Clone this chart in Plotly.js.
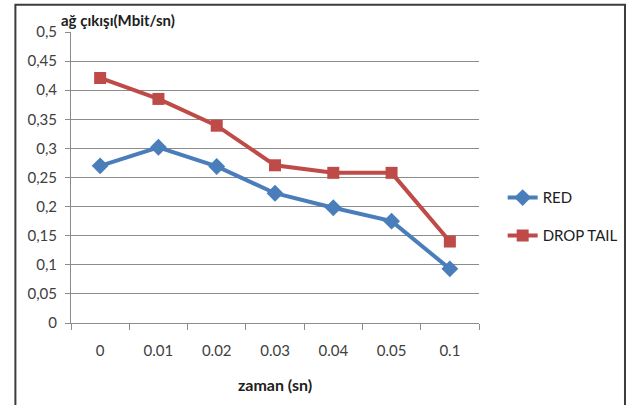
<!DOCTYPE html>
<html><head><meta charset="utf-8">
<script src="https://cdn.plot.ly/plotly-3.0.1.min.js"></script>
<style>body{margin:0;background:#fff;overflow:hidden}#c{width:630px;height:405px}</style>
</head><body><div id="c"></div>
<script>
const categories = ['0','0.01','0.02','0.03','0.04','0.05','0.1'];
const redValues = [0.270, 0.302, 0.269, 0.223, 0.198, 0.175, 0.093];
const dropTailValues = [0.421, 0.385, 0.339, 0.271, 0.258, 0.258, 0.140];
const yTitle = 'ağ çıkışı(Mbit/sn)';
const xTitle = 'zaman (sn)';

const font = 'Lato, "Open Sans", sans-serif';
const traces = [
  {x: categories, y: redValues, name: 'RED', type: 'scatter', mode: 'lines+markers',
   line: {color: '#4A7EBB', width: 4}, marker: {symbol: 'diamond', size: 13, color: '#4A7EBB'}, legend: 'legend'},
  {x: categories, y: dropTailValues, name: 'DROP TAIL', type: 'scatter', mode: 'lines+markers',
   line: {color: '#BE4B48', width: 4}, marker: {symbol: 'square', size: 12, color: '#BE4B48'}, legend: 'legend2'}
];
const layout = {
  width: 630, height: 405,
  margin: {l: 70.7, r: 150.7, t: 32.3, b: 81.7, autoexpand: false},
  paper_bgcolor: '#fff', plot_bgcolor: '#fff',
  separators: ', ',
  font: {family: font, size: 15, color: '#404040'},
  title: {text: yTitle, xref: 'container', yref: 'container', x: 61/630, xanchor: 'left', y: 1 - 21/405, yanchor: 'middle',
    font: {size: 15, color: '#202020', family: font, weight: 'bold'}, pad: {t: 0, b: 0, l: 0, r: 0}},
  xaxis: {type: 'category', range: [-0.5, 6.5], showgrid: false, showline: true, linecolor: '#8c8c8c', linewidth: 1,
    ticks: 'outside', tickson: 'boundaries', ticklen: 6, tickcolor: '#8c8c8c', zeroline: false,
    ticklabelstandoff: 14, automargin: false,
    tickfont: {size: 15, color: '#404040'},
    title: {text: xTitle, font: {size: 16, color: '#202020', family: font, weight: 'bold'}, standoff: 21}},
  yaxis: {range: [0, 0.5], dtick: 0.05, showgrid: true, gridcolor: '#8c8c8c', gridwidth: 1, automargin: false,
    showline: true, linecolor: '#8c8c8c', ticks: 'outside', ticklen: 5, tickcolor: '#8c8c8c', zeroline: false,
    ticklabelstandoff: 5,
    tickfont: {size: 15, color: '#404040'}},
  showlegend: true,
  legend: {x: 1.058, y: 0.43, xanchor: 'left', yanchor: 'middle', font: {size: 15, color: '#202020'}, bgcolor: 'rgba(0,0,0,0)'},
  legend2: {x: 1.058, y: 0.30, xanchor: 'left', yanchor: 'middle', font: {size: 15, color: '#202020'}, bgcolor: 'rgba(0,0,0,0)'},
  shapes: [{type: 'rect', xref: 'paper', yref: 'paper', x0: -0.1363, x1: 1.3578, y0: -0.35, y1: 1.0938,
    line: {color: '#3c3c3c', width: 2}, fillcolor: 'rgba(0,0,0,0)', layer: 'below'}]
};
Plotly.newPlot('c', traces, layout, {displayModeBar: false, staticPlot: true});
</script></body></html>
